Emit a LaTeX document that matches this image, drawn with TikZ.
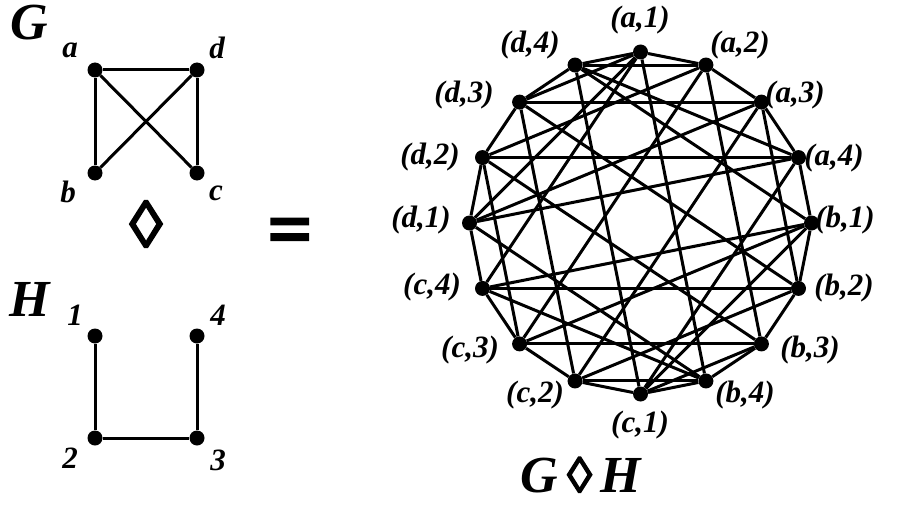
\documentclass[tikz,border=0pt]{standalone}
\usepackage{fontspec}
\setmainfont{Liberation Serif}
\newfontfamily\lozfont[FakeBold=3]{Liberation Serif}
\begin{document}
\begin{tikzpicture}[x=1pt,y=1pt,
  vtx/.style={circle,fill=black,inner sep=0pt,minimum size=15},
  edge/.style={line width=3},
  lbl/.style={font=\fontsize{31}{34}\selectfont\bfseries\itshape},
  big/.style={inner sep=0pt,font=\fontsize{52}{54}\selectfont\bfseries\itshape}]
\useasboundingbox (0,0) rectangle (901,507);
% graph G
\node[big] (G) at (29,484) {G};
\node[vtx] (ga) at (95,437) {};
\node[vtx] (gd) at (197,437) {};
\node[vtx] (gb) at (95,334) {};
\node[vtx] (gc) at (197,334) {};
\node[lbl] (la) at (70,457) {a};
\node[lbl] (ld) at (217,459) {d};
\node[lbl] (lb) at (68,315) {b};
\node[lbl] (lc) at (216,314) {c};
\foreach \u/\v in {ga/gd,ga/gb,gd/gc,ga/gc,gd/gb}
  \draw[edge] (\u) -- (\v);
\node[font=\fontsize{66}{66}\selectfont\lozfont] (dia) at (146,283) {◊};
% graph H
\node[big] (H) at (30,208) {H};
\node[vtx] (h1) at (95,171) {};
\node[vtx] (h4) at (197,171) {};
\node[vtx] (h2) at (95,69) {};
\node[vtx] (h3) at (197,69) {};
\node[lbl] (l1) at (75,192) {1};
\node[lbl] (l4) at (218,192) {4};
\node[lbl] (l2) at (70,49) {2};
\node[lbl] (l3) at (218,47) {3};
\foreach \u/\v in {h1/h2,h2/h3,h3/h4}
  \draw[edge] (\u) -- (\v);
\node[font=\fontsize{78}{78}\selectfont\lozfont\bfseries] (eq) at (290,270) {=};
% the product
\coordinate (O) at (640.5,284);
\foreach \v/\i in {a1/0,a2/1,a3/2,a4/3,b1/4,b2/5,b3/6,b4/7,
                   c1/8,c2/9,c3/10,c4/11,d1/12,d2/13,d3/14,d4/15}
  \node[vtx] (\v) at ([shift={({90-22.5*\i}:171)}]O) {};
\foreach \g/\h/\x/\y in {a/1/640/487,a/2/740/462,a/3/795/412,a/4/834/349,
                         b/1/845/287,b/2/844/219,b/3/810/157,b/4/745/112,
                         c/1/640/82,c/2/535/112,c/3/470/157,c/4/432/220,
                         d/1/421/287,d/2/430/350,d/3/464/412,d/4/530/462}
  \node[lbl] (l\g\h) at (\x,\y) {(\g,\h)};
\foreach \u/\v in {a1/a2,a2/a3,a3/a4,b1/b2,b2/b3,b3/b4,
                   c1/c2,c2/c3,c3/c4,d1/d2,d2/d3,d3/d4,
                   a1/d1,a1/d3,a1/d4,a2/d2,a2/d4,a3/d1,a3/d3,a4/d1,a4/d2,a4/d4,
                   b1/c1,b1/c3,b1/c4,b2/c2,b2/c4,b3/c1,b3/c3,b4/c1,b4/c2,b4/c4,
                   a1/b4,a2/b3,a3/b2,a4/b1,a1/c4,a2/c3,a3/c2,a4/c1,
                   d1/b4,d2/b3,d3/b2,d4/b1,d1/c4,d2/c3,d3/c2,d4/c1}
  \draw[edge] (\u) -- (\v);
\node[big] (GH) at (581,32)
  {G\,{\fontsize{50}{50}\selectfont\lozfont\upshape ◊}\,H};
\end{tikzpicture}
\end{document}
